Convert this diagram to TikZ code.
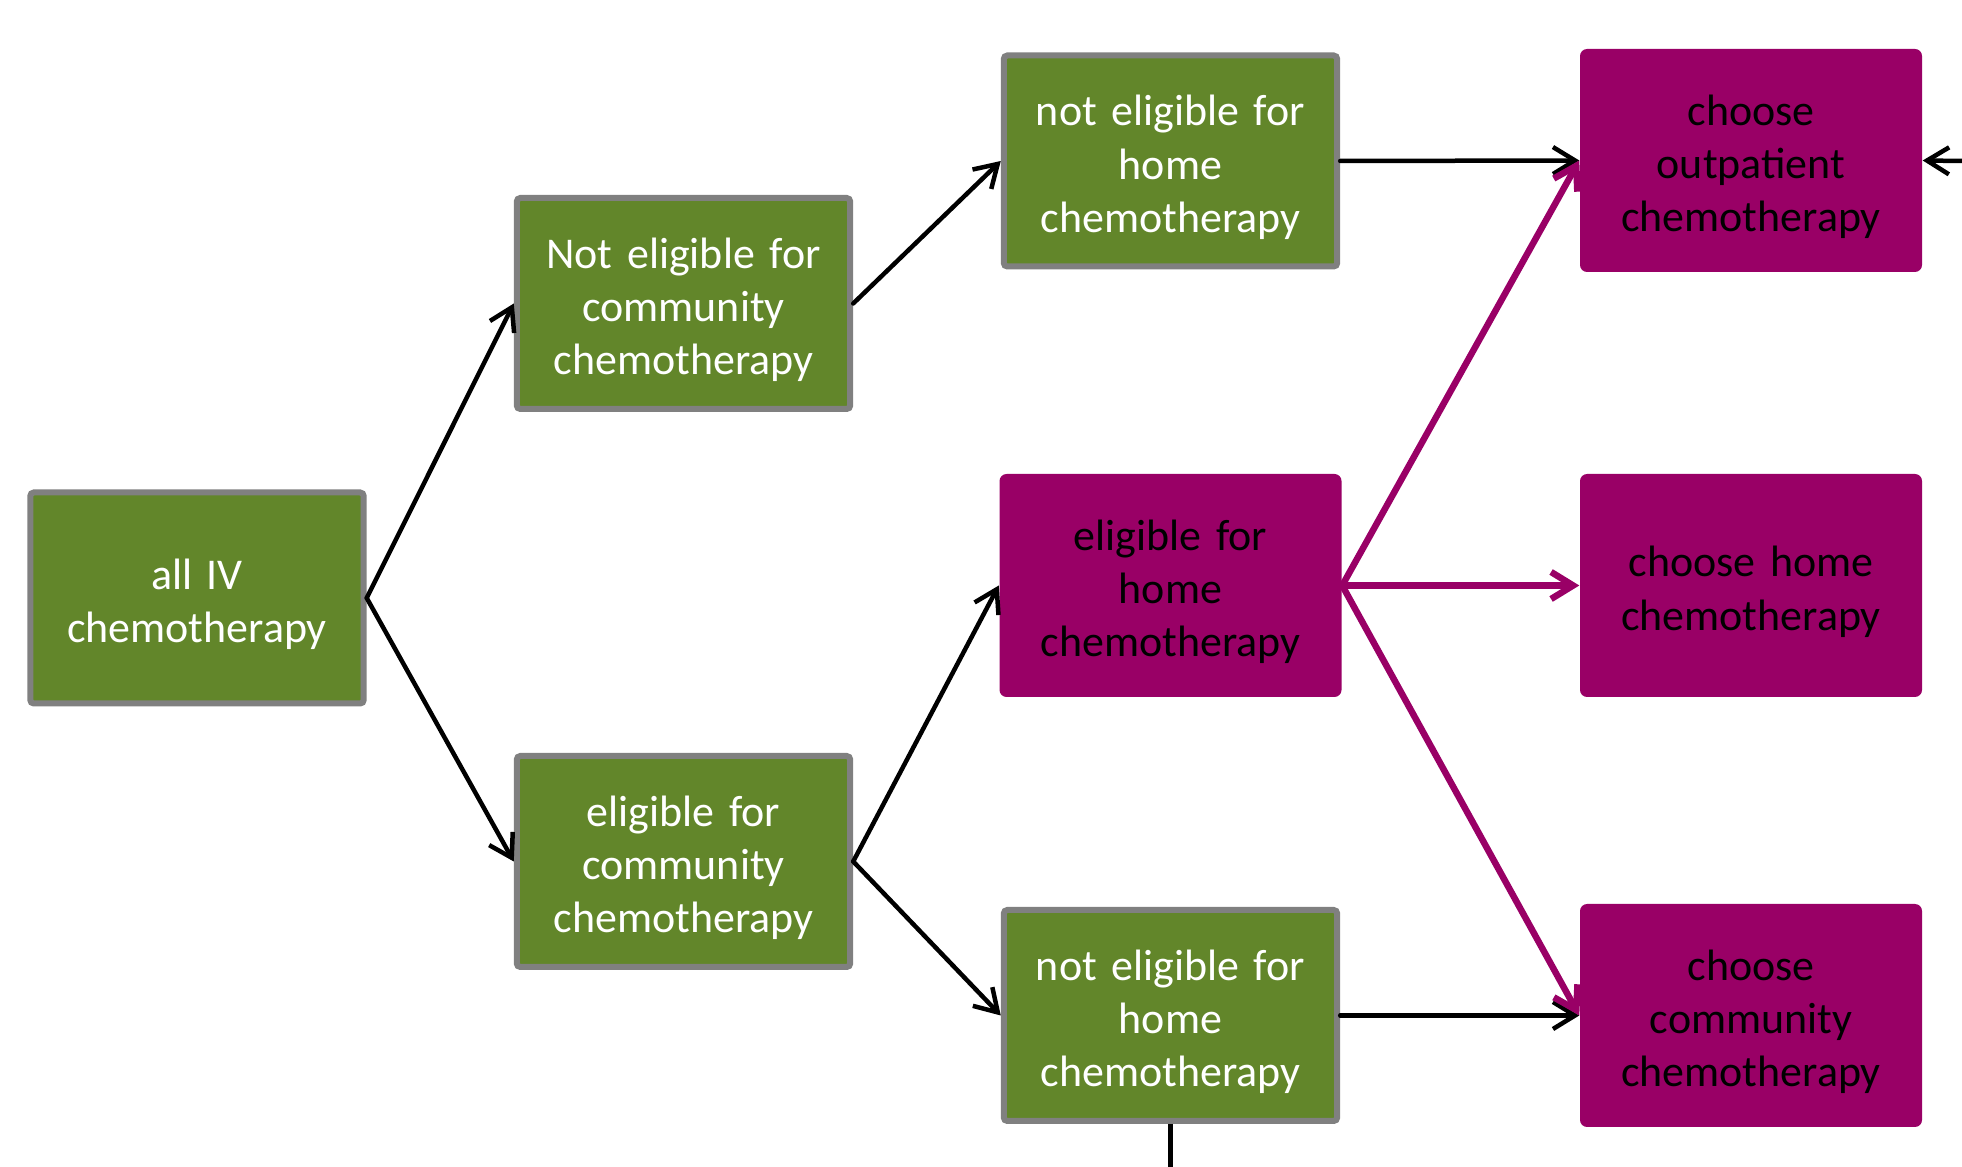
\documentclass[tikz,border=0pt]{standalone}
\usepackage{fontspec}
\setmainfont{Carlito}
\usetikzlibrary{arrows.meta, positioning}

\definecolor{olivegreen}{HTML}{62862A}
\definecolor{berry}{HTML}{990066}
\definecolor{bordergray}{HTML}{808080}

\begin{document}
\begin{tikzpicture}[
        % Green box
        greenbox/.style={
                rectangle,
                rounded corners=1pt,
                minimum height=2.11cm,
                minimum width=3.31cm,
                text centered,
                text width=3.1cm,
                font=\fontsize{12.5}{15.2}\selectfont,
                execute at begin node={\rule{0pt}{12.3pt}},
                text=white,
                fill=olivegreen,
                draw=bordergray,
                line width=0.06cm
            },
        % Magenta box
        berrybox/.style={
                rectangle,
                rounded corners=2pt,
                minimum height=2.23cm,
                minimum width=3.42cm,
                text centered,
                text width=3.1cm,
                font=\fontsize{12.5}{15.2}\selectfont,
                execute at begin node={\rule{0pt}{12.3pt}},
                text=black,
                fill=berry
            },
        % Arrows
        blackarrow/.style={
                line width=0.045cm,
                line cap=round,
                -{Straight Barb[length=0.22cm, width=0.27cm]}
            },
        berryarrow/.style={
                draw=berry,
                line width=0.065cm,
                line cap=round,
                -{Straight Barb[length=0.22cm, width=0.27cm]}
            }
    ]

    \useasboundingbox (0,0) rectangle (19.62,-11.67);

    % FIRST COLUMN
    \node[greenbox] (alliv) at (1.97,-5.98) {all IV\\chemotherapy};

    % SECOND COLUMN
    \node[greenbox] (notcomm) at (6.835,-3.035) {Not eligible for\\community\\chemotherapy};
    \node[greenbox] (eligcomm) at (6.835,-8.615) {eligible for\\community\\chemotherapy};

    % THIRD COLUMN
    \node[greenbox] (nothometop) at (11.705,-1.61) {not eligible for\\home\\chemotherapy};
    \node[berrybox] (elighome) at (11.705,-5.855) {eligible for\\home\\chemotherapy};
    \node[greenbox] (nothomebot) at (11.705,-10.155) {not eligible for\\home\\chemotherapy};

    % CHOICES
    \node[berrybox] (outpatient) at (17.51,-1.605) {choose\\outpatient\\chemotherapy};
    \node[berrybox] (choosehome) at (17.51,-5.855) {choose home\\chemotherapy};
    \node[berrybox] (choosecomm) at (17.51,-10.155) {choose\\community\\chemotherapy};

    % Loose ends
    \coordinate (rightin) at (19.62,-1.61);
    \coordinate (bottomout) at (11.705,-11.67);

    % Connectors
    \draw[blackarrow] (alliv.east) -- (notcomm.west);
    \draw[blackarrow] (alliv.east) -- (eligcomm.west);
    \draw[blackarrow] (notcomm.east) -- (nothometop.west);
    \draw[blackarrow] (eligcomm.east) -- (elighome.west);
    \draw[blackarrow] (eligcomm.east) -- (nothomebot.west);
    \draw[blackarrow] (nothometop.east) -- (outpatient.west);
    \draw[blackarrow] (nothomebot.east) -- (choosecomm.west);
    \draw[berryarrow] (elighome.east) -- (outpatient.west);
    \draw[berryarrow] (elighome.east) -- (choosehome.west);
    \draw[berryarrow] (elighome.east) -- (choosecomm.west);
    \draw[blackarrow] (rightin) -- (outpatient.east);
    \draw[line width=0.045cm] (nothomebot.south) -- (bottomout);

\end{tikzpicture}
\end{document}
